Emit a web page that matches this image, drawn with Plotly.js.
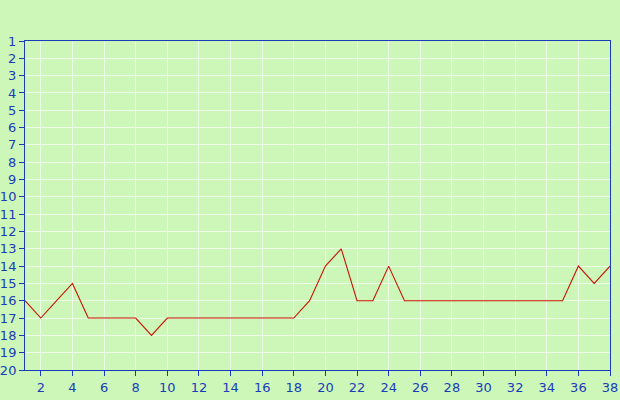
<!DOCTYPE html>
<html><head><meta charset="utf-8">
<script src="https://cdn.plot.ly/plotly-3.0.1.min.js"></script>
<style>html,body{margin:0;padding:0;background:#ccf7b9;}</style>
</head><body>
<div id="chart" style="width:620px;height:400px;"></div>
<script>
var xValues = [1,2,3,4,5,6,7,8,9,10,11,12,13,14,15,16,17,18,19,20,21,22,23,24,25,26,27,28,29,30,31,32,33,34,35,36,37,38];
var positions = [16,17,16,15,17,17,17,17,18,17,17,17,17,17,17,17,17,17,16,14,13,16,16,14,16,16,16,16,16,16,16,16,16,16,16,14,15,14];
var yTicks = [1,2,3,4,5,6,7,8,9,10,11,12,13,14,15,16,17,18,19,20];
var xTicks = [2,4,6,8,10,12,14,16,18,20,22,24,26,28,30,32,34,36,38];
var axisColor = '#1a3cb8';
var data = [{
  x: xValues, y: positions, type: 'scatter', mode: 'lines',
  line: {color: '#cc1100', width: 1.1}, hoverinfo: 'none'
}];
var layout = {
  width: 620, height: 400,
  paper_bgcolor: '#ccf7b9', plot_bgcolor: '#ccf7b9',
  margin: {l: 25, r: 10, t: 41, b: 30},
  showlegend: false,
  font: {family: 'DejaVu Sans, Verdana, sans-serif', size: 12, color: axisColor},
  xaxis: {
    range: [1, 38], tickmode: 'array', tickvals: xTicks, ticktext: xTicks.map(String),
    showgrid: true, gridcolor: '#eefbe6', gridwidth: 1,
    showline: true, linecolor: axisColor, linewidth: 1, mirror: true,
    ticks: 'outside', ticklen: 5, tickcolor: axisColor, zeroline: false,
    tickfont: {size: 13, color: axisColor}
  },
  yaxis: {
    range: [20, 1], tickmode: 'array', tickvals: yTicks, ticktext: yTicks.map(String),
    showgrid: true, gridcolor: '#eefbe6', gridwidth: 1,
    showline: true, linecolor: axisColor, linewidth: 1, mirror: true,
    ticks: 'outside', ticklen: 5, tickcolor: axisColor, zeroline: false,
    tickfont: {size: 13, color: axisColor}
  }
};
Plotly.newPlot('chart', data, layout, {staticPlot: true, displayModeBar: false});
</script>
</body></html>
